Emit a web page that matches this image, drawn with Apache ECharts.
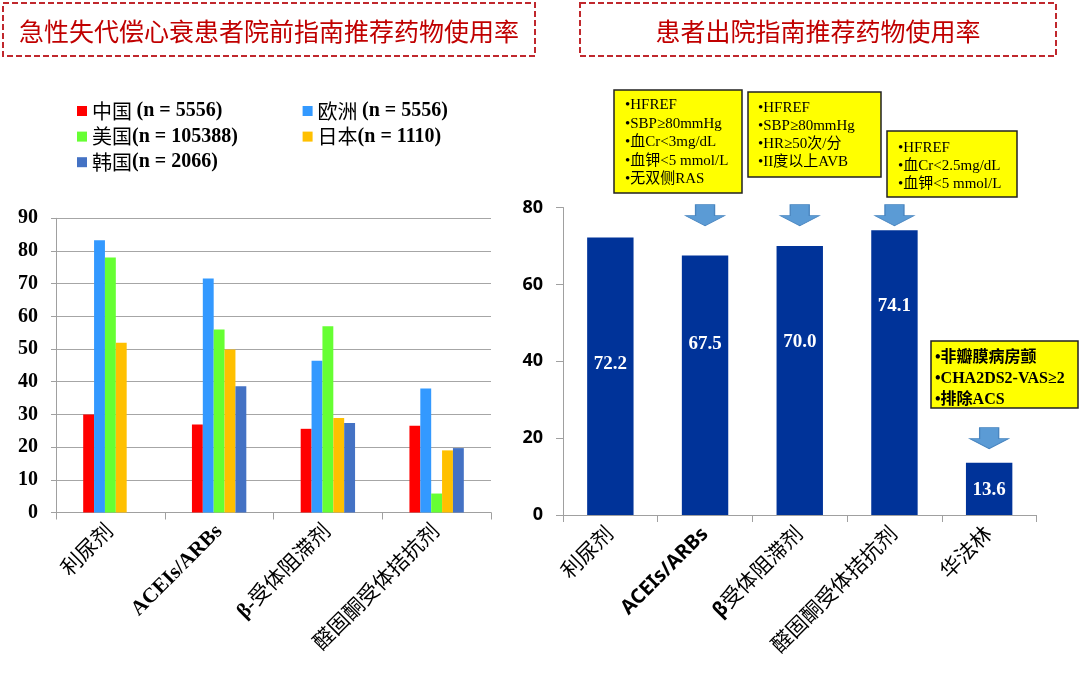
<!DOCTYPE html>
<html>
<head>
<meta charset="utf-8">
<script src="https://cdn.jsdelivr.net/npm/echarts@6.0.0/dist/echarts.min.js"></script>
<style>
html,body{margin:0;padding:0;background:#fff;}
#chart{width:1080px;height:684px;}
</style>
</head>
<body>
<div id="chart"></div>
<script>
// ---- data ----
const leftTitle = '急性失代偿心衰患者院前指南推荐药物使用率';
const rightTitle = '患者出院指南推荐药物使用率';
const leftCategories = ['利尿剂', 'ACEIs/ARBs', 'β-受体阻滞剂', '醛固酮受体拮抗剂'];
const regionNames = ['中国 (n = 5556)', '欧洲 (n = 5556)', '美国(n = 105388)', '日本(n = 1110)', '韩国(n = 2066)'];
const china  = [30.0, 26.9, 25.6, 26.5];
const europe = [83.3, 71.6, 46.4, 37.9];
const usa    = [78.0, 56.0, 57.0, 5.8];
const japan  = [51.9, 49.9, 28.9, 19.0];
const korea  = [null, 38.6, 27.4, 19.7];
const leftYMax = 90, leftYStep = 10;

const rightCategories = ['利尿剂', 'ACEIs/ARBs', 'β受体阻滞剂', '醛固酮受体拮抗剂', '华法林'];
const dischargeRates = [72.2, 67.5, 70.0, 74.1, 13.6];
const rightYMax = 80, rightYStep = 20;

const criteriaACEI = ['•HFREF', '•SBP≥80mmHg', '•血Cr<3mg/dL', '•血钾<5 mmol/L', '•无双侧RAS'];
const criteriaBeta = ['•HFREF', '•SBP≥80mmHg', '•HR≥50次/分', '•II度以上AVB'];
const criteriaMRA  = ['•HFREF', '•血Cr<2.5mg/dL', '•血钾<5 mmol/L'];
const criteriaWarfarin = ['•非瓣膜病房颤', '•CHA2DS2-VAS≥2', '•排除ACS'];
const arrowTargets = ['ACEIs/ARBs', 'β受体阻滞剂', '醛固酮受体拮抗剂', '华法林'];

// ---- styles ----
const regionColors = ['#FF0000', '#3399FF', '#66FF33', '#FFC000', '#4472C4'];
const SERIF = "'Liberation Serif','Times New Roman','Noto Sans CJK SC'";
const SANS = "'Noto Sans','Noto Sans CJK SC'";
const CJK = "'Noto Sans CJK SC'";
const axisGray = '#A0A0A0';
const labelShift = [-12, -41, -38, -66, 1];
const arrowLevel = [78, 78, 78, 20];

const chart = echarts.init(document.getElementById('chart'), null, {renderer: 'canvas'});

const leftSeriesData = [china, europe, usa, japan, korea];
const leftSeries = leftSeriesData.map((arr, i) => ({
  name: regionNames[i],
  type: 'bar',
  xAxisIndex: 0,
  yAxisIndex: 0,
  data: arr,
  barGap: '0%',
  barCategoryGap: '50%',
  itemStyle: {color: regionColors[i]},
  emphasis: {disabled: true}
}));

function yellowBox(x, y, w, h, lines, tx, ty, fontSize, lineHeight, bold) {
  return {
    type: 'group',
    children: [
      {type: 'rect', shape: {x: x, y: y, width: w, height: h},
       style: {fill: '#FFFF00', stroke: '#222', lineWidth: 1.5}},
      {type: 'text', x: tx, y: ty,
       style: {text: lines.join('\n'), fontSize: fontSize, lineHeight: lineHeight,
               fontFamily: SERIF, fontWeight: bold ? 'bold' : 'normal', fill: '#000',
               textVerticalAlign: 'top', textAlign: 'left'}}
    ]
  };
}

const option = {
  animation: false,
  backgroundColor: '#ffffff',
  legend: {
    data: regionNames,
    left: 72,
    top: 96,
    width: 470,
    itemWidth: 10,
    itemHeight: 10,
    itemGap: 5.6,
    icon: 'rect',
    selectedMode: false,
    formatter: function (name) {
      const k = name.indexOf('(');
      return '{c|' + name.slice(0, k) + '}{n|' + name.slice(k) + '}';
    },
    textStyle: {
      width: 205,
      lineHeight: 20,
      fontSize: 20,
      color: '#000',
      rich: {
        c: {fontFamily: CJK, fontSize: 20, color: '#000', lineHeight: 20},
        n: {fontFamily: SERIF, fontSize: 20, fontWeight: 'bold', color: '#000', lineHeight: 20}
      }
    }
  },
  grid: [
    {left: 56, top: 218.3, width: 435, height: 294.2},
    {left: 563, top: 207.5, width: 473.5, height: 307.5}
  ],
  xAxis: [
    {
      type: 'category', gridIndex: 0, data: leftCategories,
      axisLine: {show: true, lineStyle: {color: axisGray, width: 1}},
      axisTick: {show: true, length: 7, alignWithLabel: false, lineStyle: {color: axisGray}},
      axisLabel: {
        rotate: 45, margin: 16, color: '#000', fontSize: 21, fontFamily: SERIF, interval: 0,
        formatter: function (v) {
          if (v === 'ACEIs/ARBs') return '{b|' + v + '}';
          if (v.charAt(0) === 'β') return '{b|β-}{r|' + v.slice(2) + '}';
          return '{r|' + v + '}';
        },
        rich: {
          b: {fontFamily: SERIF, fontWeight: 'bold', fontSize: 21, color: '#000'},
          r: {fontFamily: SERIF, fontSize: 21, color: '#000'}
        }
      }
    },
    {
      type: 'category', gridIndex: 1, data: rightCategories,
      axisLine: {show: true, lineStyle: {color: axisGray, width: 1}},
      axisTick: {show: true, length: 7, alignWithLabel: false, lineStyle: {color: axisGray}},
      axisLabel: {
        rotate: 45, margin: 16, color: '#000', fontSize: 21, fontFamily: SANS, interval: 0,
        formatter: function (v) {
          if (v === 'ACEIs/ARBs') return '{b|' + v + '}';
          if (v.charAt(0) === 'β') return '{b|β}{r|' + v.slice(1) + '}';
          return '{r|' + v + '}';
        },
        rich: {
          b: {fontFamily: SANS, fontWeight: 'bold', fontSize: 20, color: '#000'},
          r: {fontFamily: SANS, fontSize: 21, color: '#000'}
        }
      }
    }
  ],
  yAxis: [
    {
      type: 'value', gridIndex: 0, min: 0, max: leftYMax, interval: leftYStep,
      axisLine: {show: true, lineStyle: {color: axisGray}},
      axisTick: {show: true, length: 5, lineStyle: {color: axisGray}},
      splitLine: {show: true, lineStyle: {color: '#A6A6A6', width: 1}},
      axisLabel: {margin: 18, color: '#000', fontSize: 20, fontWeight: 'bold', fontFamily: SERIF}
    },
    {
      type: 'value', gridIndex: 1, min: 0, max: rightYMax, interval: rightYStep,
      axisLine: {show: true, lineStyle: {color: axisGray}},
      axisTick: {show: true, length: 7, lineStyle: {color: axisGray}},
      splitLine: {show: false},
      axisLabel: {margin: 20, color: '#000', fontSize: 18, fontWeight: 'bold', fontFamily: SANS}
    }
  ],
  series: leftSeries.concat([
    {
      name: '出院使用率',
      type: 'bar',
      xAxisIndex: 1,
      yAxisIndex: 1,
      barCategoryGap: '51%',
      itemStyle: {color: '#003399'},
      emphasis: {disabled: true},
      data: dischargeRates.map((v, i) => ({value: v, label: {offset: [0, labelShift[i]]}})),
      label: {
        show: true, position: 'inside', color: '#fff', fontFamily: SERIF,
        fontWeight: 'bold', fontSize: 19,
        formatter: function (p) { return Number(p.value).toFixed(1); }
      },
      markPoint: {
        symbol: 'path://M10,0L29,0L29,11L39,11L19.5,21L0,11L10,11Z',
        symbolSize: [39, 21],
        symbolKeepAspect: false,
        itemStyle: {color: '#5B9BD5', borderColor: '#4A86C0', borderWidth: 1},
        label: {show: false},
        emphasis: {disabled: true},
        data: arrowTargets.map((c, i) => ({coord: [c, arrowLevel[i]]}))
      }
    }
  ]),
  graphic: [
    {type: 'rect', shape: {x: 3, y: 3, width: 532, height: 53},
     style: {fill: 'none', stroke: '#C0282D', lineWidth: 2, lineDash: [6, 3]}},
    {type: 'text', x: 269, y: 31,
     style: {text: leftTitle, fontSize: 25, fontFamily: CJK, fill: '#C00000',
             textAlign: 'center', textVerticalAlign: 'middle'}},
    {type: 'rect', shape: {x: 580, y: 3, width: 476, height: 53},
     style: {fill: 'none', stroke: '#C0282D', lineWidth: 2, lineDash: [6, 3]}},
    {type: 'text', x: 818, y: 31,
     style: {text: rightTitle, fontSize: 25, fontFamily: CJK, fill: '#C00000',
             textAlign: 'center', textVerticalAlign: 'middle'}},
    yellowBox(614, 90, 128, 103, criteriaACEI, 625, 96, 15, 18.5, false),
    yellowBox(748, 92, 133, 85, criteriaBeta, 758, 99, 15, 18, false),
    yellowBox(887, 131, 130, 66, criteriaMRA, 898, 139, 15, 18, false),
    yellowBox(931, 341, 147, 67, criteriaWarfarin, 935, 347.5, 16, 21, true)
  ]
};

chart.setOption(option);
</script>
</body>
</html>
